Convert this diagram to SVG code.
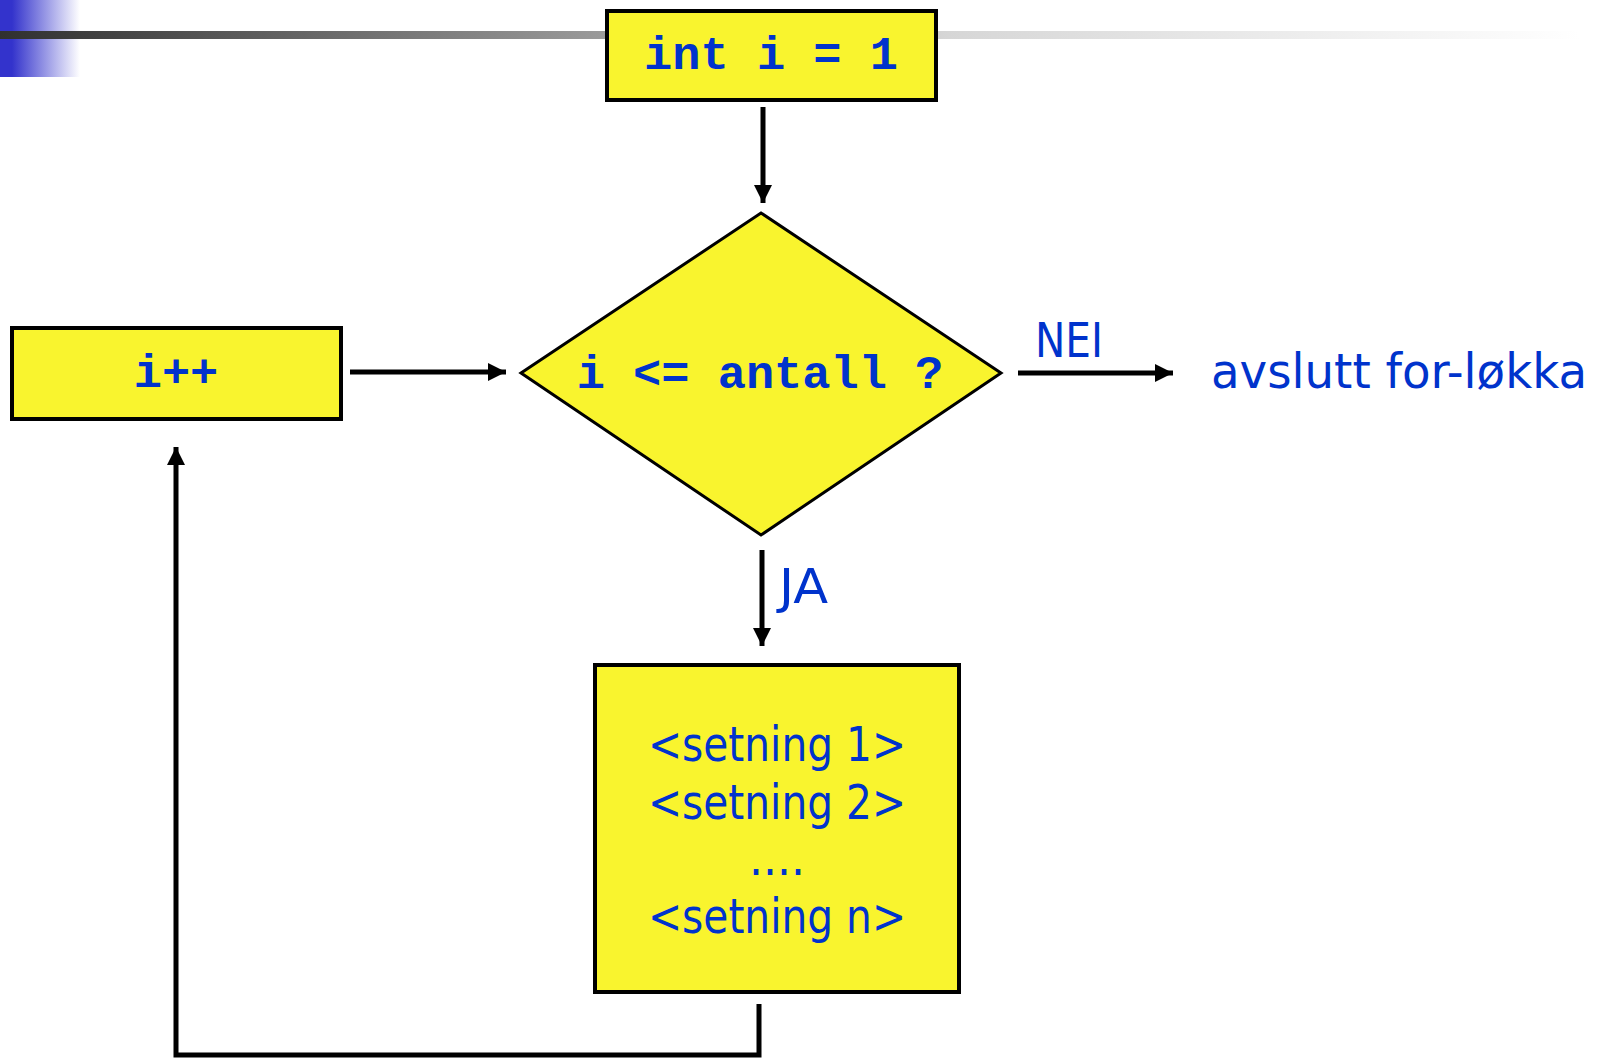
<svg xmlns="http://www.w3.org/2000/svg" width="1604" height="1059" viewBox="0 0 1604 1059">
<style>
.box{fill:#F9F42E;stroke:#000;stroke-width:4}
.code{font-family:"Liberation Mono","Courier New",monospace;font-weight:bold;font-size:47px;fill:#0033CC;text-anchor:middle}
.lbl{font-family:"DejaVu Sans",Verdana,sans-serif;font-size:48px;fill:#0033CC}
.conn{fill:none;stroke:#000;stroke-width:5}
</style>
<defs>
<linearGradient id="bar" x1="0" y1="0" x2="1580" y2="0" gradientUnits="userSpaceOnUse">
<stop offset="0" stop-color="#303030"/>
<stop offset="0.38" stop-color="#9a9a9a"/>
<stop offset="0.6" stop-color="#d6d6d6"/>
<stop offset="1" stop-color="#ffffff"/>
</linearGradient>
<linearGradient id="blue" x1="0" y1="0" x2="80" y2="0" gradientUnits="userSpaceOnUse">
<stop offset="0" stop-color="#3333CC"/>
<stop offset="0.15" stop-color="#3333CC"/>
<stop offset="1" stop-color="#ffffff"/>
</linearGradient>
<marker id="ah" markerUnits="userSpaceOnUse" markerWidth="18" markerHeight="18" refX="18" refY="9" orient="auto">
<path d="M0,0 L18,9 L0,18 Z" fill="#000"/>
</marker>
</defs>
<g id="header">
<rect x="0" y="0" width="80" height="77" fill="url(#blue)"/>
<rect x="0" y="31" width="1580" height="8" fill="url(#bar)"/>
</g>
<g id="connectors">
<line class="conn" x1="763" y1="107" x2="763" y2="203" marker-end="url(#ah)"/>
<line class="conn" x1="350" y1="372" x2="506" y2="372" marker-end="url(#ah)"/>
<line class="conn" x1="1018" y1="373" x2="1173" y2="373" marker-end="url(#ah)"/>
<line class="conn" x1="762" y1="550" x2="762" y2="646" marker-end="url(#ah)"/>
<polyline class="conn" points="759,1004 759,1055 176,1055 176,447" marker-end="url(#ah)"/>
<text class="lbl" x="1035" y="357" textLength="68" lengthAdjust="spacingAndGlyphs">NEI</text>
<text class="lbl" x="779" y="603" textLength="49" lengthAdjust="spacingAndGlyphs">JA</text>
</g>
<g id="init">
<rect class="box" x="607" y="11" width="329" height="89"/>
<text class="code" x="771" y="69">int i = 1</text>
</g>
<g id="increment">
<rect class="box" x="12" y="328" width="329" height="91"/>
<text class="code" x="176" y="387">i++</text>
</g>
<g id="condition">
<polygon points="761,213 1001,373 761,535 521,373" fill="#F9F42E" stroke="#000" stroke-width="3"/>
<text class="code" x="760" y="388">i &lt;= antall ?</text>
</g>
<g id="body">
<rect class="box" x="595" y="665" width="364" height="327"/>
<text class="lbl" x="777" y="761" text-anchor="middle" textLength="258" lengthAdjust="spacingAndGlyphs">&lt;setning 1&gt;</text>
<text class="lbl" x="777" y="819" text-anchor="middle" textLength="258" lengthAdjust="spacingAndGlyphs">&lt;setning 2&gt;</text>
<text class="lbl" x="777" y="875" text-anchor="middle" textLength="56" lengthAdjust="spacingAndGlyphs">....</text>
<text class="lbl" x="777" y="933" text-anchor="middle" textLength="258" lengthAdjust="spacingAndGlyphs">&lt;setning n&gt;</text>
</g>
<g id="exit">
<text class="lbl" x="1211" y="388" textLength="376" lengthAdjust="spacingAndGlyphs">avslutt for-løkka</text>
</g>
</svg>
